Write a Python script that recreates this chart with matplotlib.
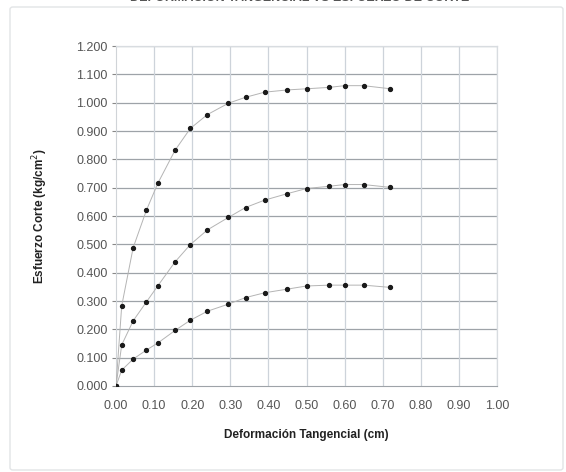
import matplotlib.pyplot as plt
from matplotlib.patches import FancyBboxPatch

plt.rcParams['font.family'] = ['Liberation Sans', 'DejaVu Sans']

# desplazamientos (cm), iguales para las tres cargas
deformacion = [0, 0.015, 0.045, 0.08, 0.11, 0.155, 0.195, 0.24, 0.295, 0.34,
               0.39, 0.45, 0.50, 0.56, 0.60, 0.65, 0.72]

# esfuerzo de corte (kg/cm2) por carga normal
esfuerzo_alto = [0, 0.283, 0.488, 0.621, 0.716, 0.832, 0.909, 0.958, 0.998, 1.019,
                 1.037, 1.045, 1.049, 1.054, 1.060, 1.060, 1.049]
esfuerzo_medio = [0, 0.145, 0.230, 0.297, 0.354, 0.438, 0.499, 0.551, 0.595, 0.630,
                  0.656, 0.679, 0.697, 0.705, 0.711, 0.711, 0.701]
esfuerzo_bajo = [0, 0.056, 0.095, 0.127, 0.152, 0.196, 0.232, 0.264, 0.289, 0.312,
                 0.329, 0.342, 0.353, 0.356, 0.356, 0.356, 0.348]

xticks = [i / 10 for i in range(11)]
yticks = [i / 10 for i in range(13)]

fig = plt.figure(figsize=(5.66, 4.72), dpi=100)
fig.patch.set_facecolor('white')

# marco del grafico
marco = FancyBboxPatch((10 / 566, 2 / 472), 553 / 566, 463 / 472,
                       boxstyle='round,pad=0,rounding_size=0.005',
                       transform=fig.transFigure, fill=False,
                       edgecolor='#e2e4e6', linewidth=1.0)
fig.patches.append(marco)

# titulo cortado en la parte superior (como en la hoja escaneada)
fig.text(0.53, 1.004, 'DEFORMACIÓN TANGENCIAL VS ESFUERZO DE CORTE',
         ha='center', va='center', fontsize=9, fontweight='bold', color='#555555')

ax = fig.add_axes([116 / 566, 86 / 472, 381 / 566, 340 / 472])

for serie in [esfuerzo_alto, esfuerzo_medio, esfuerzo_bajo]:
    ax.plot(deformacion, serie, color='#b4b4b4', linewidth=0.7, zorder=3)
    ax.plot(deformacion, serie, linestyle='none', marker='o', markersize=2.8,
            color='#1a1a1a', zorder=4)

ax.set_xlim(0, 1.0)
ax.set_ylim(0, 1.2)
ax.set_xticks(xticks)
ax.set_yticks(yticks)
ax.set_xticklabels([f'{v:.2f}' for v in xticks])
ax.set_yticklabels([f'{v:.3f}' for v in yticks])

for y in yticks[1:]:
    ax.axhline(y, color='#9ea3a8', linewidth=0.9, zorder=1)
for x in xticks[1:]:
    ax.axvline(x, color='#cdd3da', linewidth=0.9, zorder=1)

for lado in ['top', 'right']:
    ax.spines[lado].set_color('#d8dce0')
    ax.spines[lado].set_linewidth(0.9)
ax.spines['left'].set_color('#d0d4d8')
ax.spines['bottom'].set_color('#9ea3a8')

ax.tick_params(axis='y', length=3, color='#888888', labelsize=9, labelcolor='#555555', pad=3)
ax.tick_params(axis='x', length=0, labelsize=9, labelcolor='#555555', pad=10)

ax.set_xlabel('Deformación Tangencial (cm)', fontsize=8.5, fontweight='bold',
              color='#222222', labelpad=12)
ax.set_ylabel('Esfuerzo Corte (kg/cm$^2$)', fontsize=8.5, fontweight='bold',
              color='#222222', labelpad=19)

fig.savefig('out.png', dpi=100)
